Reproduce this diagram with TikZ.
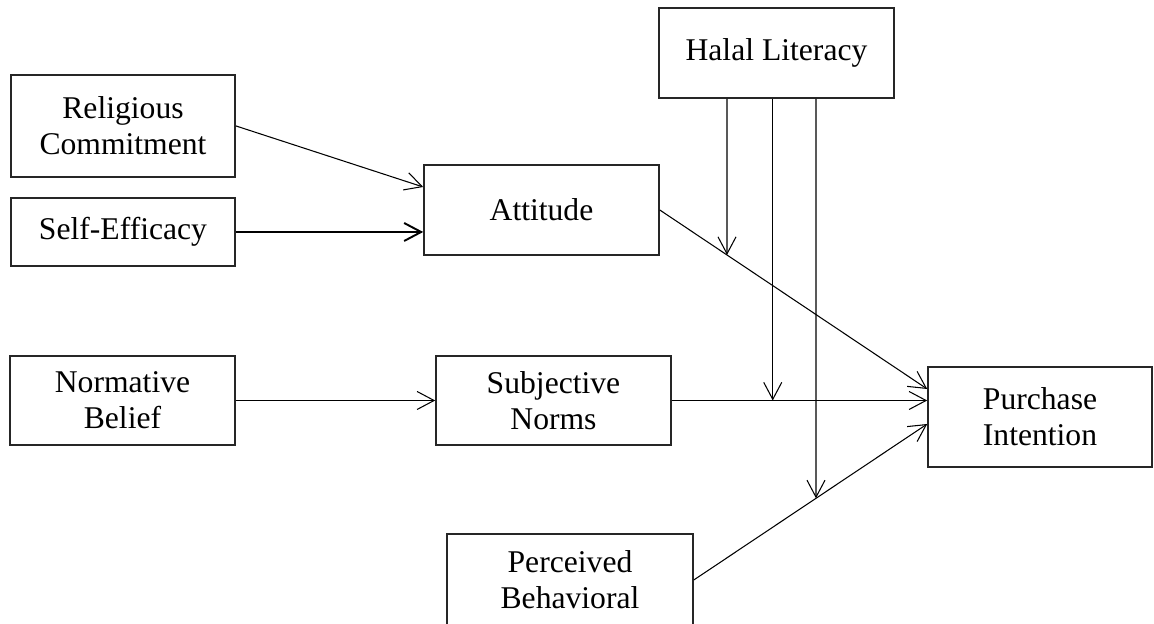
\documentclass[tikz,border=0pt]{standalone}
\usepackage{fontspec}
\setmainfont{Liberation Serif}
\usetikzlibrary{arrows.meta,intersections}

\begin{document}
\begin{tikzpicture}[
  box/.style={draw=black!85, line width=0.9pt, align=center, inner sep=0pt,
    font=\fontsize{18}{20.5}\selectfont},
  link/.style={-{Straight Barb[length=3.4mm,width=3.6mm]}, line width=0.6pt}
]
\useasboundingbox (0, 0) rectangle (23.08, 12.48);

\node[box, minimum width=4.70cm, minimum height=1.80cm] (halal) at (15.53, 11.42) {Halal Literacy};
\node[box, line width=1.2pt, minimum width=4.48cm, minimum height=2.04cm] (relig) at (2.46, 9.96) {Religious\\Commitment};
\node[box, minimum width=4.48cm, minimum height=1.36cm] (selfeff) at (2.46, 7.84) {Self-Efficacy};
\node[box, minimum width=4.70cm, minimum height=1.80cm] (att) at (10.83, 8.28) {Attitude};
\node[box, minimum width=4.50cm, minimum height=1.78cm] (normb) at (2.45, 4.47) {Normative\\Belief};
\node[box, minimum width=4.70cm, minimum height=1.78cm] (subjn) at (11.07, 4.47) {Subjective\\Norms};
\node[box, minimum width=4.48cm, minimum height=2.00cm] (purch) at (20.80, 4.14) {Purchase\\Intention};
\node[box, minimum width=4.92cm, minimum height=1.84cm] (pbc) at (11.40, 0.88) {Perceived\\Behavioral};

\draw[link] (relig.east) -- ([yshift=4.6mm]att.west);
\draw[link, line width=1.1pt] (selfeff.east) -- (att.west |- selfeff.east);
\draw[link] (normb.east) -- (subjn.west);

\draw[link, name path=attline] (att.east) -- ([yshift=5.6mm]purch.west);
\draw[link] (subjn.east) -- (subjn.east -| purch.west);
\draw[link, name path=pbcline] (pbc.east) -- ([yshift=-1.4mm]purch.west);

\path[name path=mod1] ([xshift=-9.9mm]halal.south) -- ++(0, -8);
\path[name path=mod3] ([xshift=7.9mm]halal.south) -- ++(0, -10);
\draw[link, name intersections={of=attline and mod1}] ([xshift=-9.9mm]halal.south) -- (intersection-1);
\draw[link] ([xshift=-0.75mm]halal.south) -- ([xshift=-0.75mm]halal.south |- subjn.east);
\draw[link, name intersections={of=pbcline and mod3}] ([xshift=7.9mm]halal.south) -- (intersection-1);
\end{tikzpicture}
\end{document}
